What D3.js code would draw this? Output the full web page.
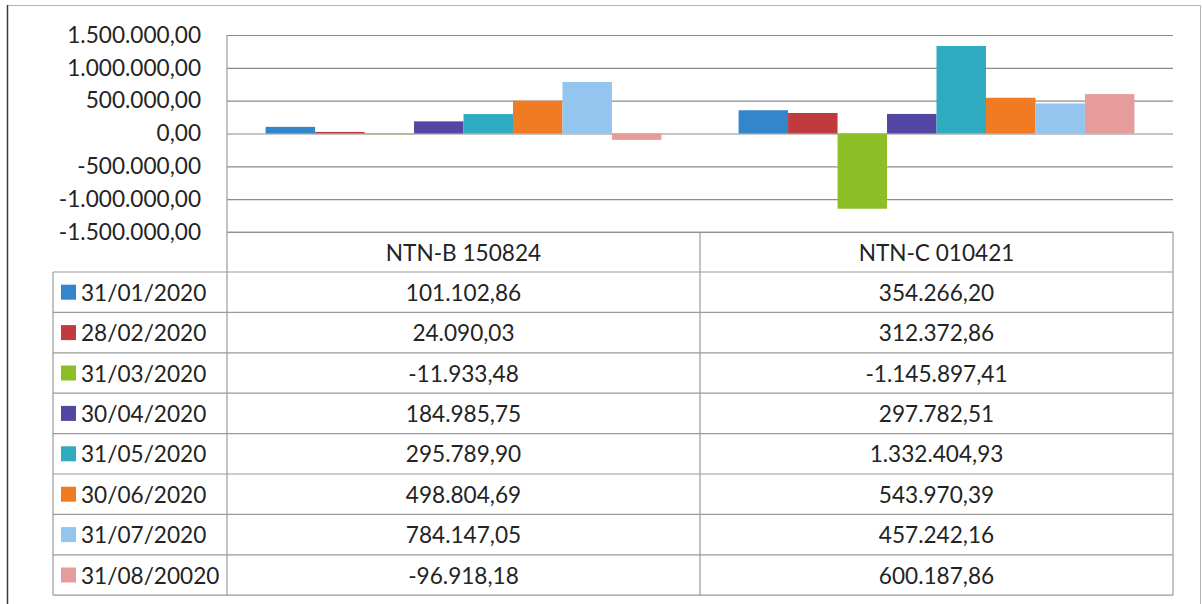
<!DOCTYPE html>
<html>
<head>
<meta charset="utf-8">
<script src="https://cdn.jsdelivr.net/npm/d3@7"></script>
<style>
  html, body { margin: 0; padding: 0; background: #ffffff; }
  svg { display: block; }
  text { font-family: Lato, "Open Sans", sans-serif; fill: #232323; }
</style>
</head>
<body>
<svg id="chart" width="1202" height="604"></svg>
<script>
// Securities (categories) and month-end dates (series)
const categories = ["NTN-B 150824", "NTN-C 010421"];
const dates = ["31/01/2020", "28/02/2020", "31/03/2020", "30/04/2020",
               "31/05/2020", "30/06/2020", "31/07/2020", "31/08/20020"];
// Values per date: [NTN-B 150824, NTN-C 010421]
const values = [
  [101102.86, 354266.20],
  [24090.03, 312372.86],
  [-11933.48, -1145897.41],
  [184985.75, 297782.51],
  [295789.90, 1332404.93],
  [498804.69, 543970.39],
  [784147.05, 457242.16],
  [-96918.18, 600187.86]
];
const yTicks = [-1500000, -1000000, -500000, 0, 500000, 1000000, 1500000];
const seriesColors = ["#3385cc", "#c03b3d", "#8cbf26", "#5347a4",
                      "#2eabc0", "#f07b22", "#93c5ef", "#e79c9c"];

const svg = d3.select("#chart");
const fontSize = 22.6;

// Brazilian number format: "." for thousands, "," for decimals, plain hyphen minus
const ptBR = d3.formatLocale({ decimal: ",", thousands: ".", grouping: [3], currency: ["R$", ""], minus: "-" });
const fmt = ptBR.format(",.2f");

const plot = { left: 227, right: 1173, top: 35, bottom: 232 };
const table = { left: 53, headerBottom: 272, rowH: 40.4 };

const x0 = d3.scaleBand().domain(categories).range([plot.left, plot.right]).padding(0);
const x1 = d3.scaleBand().domain(d3.range(dates.length))
  .range([0, x0.bandwidth()]).paddingInner(0).paddingOuter(0.78);
const y = d3.scaleLinear().domain([-1500000, 1500000]).range([plot.bottom, plot.top]);

// Outer frame
svg.append("line").attr("x1", 7).attr("x2", 1200).attr("y1", 5.5).attr("y2", 5.5)
  .attr("stroke", "#b4b4b4").attr("stroke-width", 1);
svg.append("line").attr("x1", 7.5).attr("x2", 7.5).attr("y1", 5).attr("y2", 604)
  .attr("stroke", "#3a3a3a").attr("stroke-width", 1.5);
svg.append("line").attr("x1", 1200.5).attr("x2", 1200.5).attr("y1", 5).attr("y2", 604)
  .attr("stroke", "#b4b4b4").attr("stroke-width", 1);

// Gridlines and y-axis labels
const yAxis = d3.axisLeft(y).tickValues(yTicks).tickFormat(fmt)
  .tickSize(-(plot.right - plot.left)).tickPadding(26);
const gy = svg.append("g").attr("transform", `translate(${plot.left},0)`).call(yAxis);
gy.select(".domain").remove();
gy.selectAll(".tick line").attr("stroke", "#8c8c8c").attr("stroke-width", 1.2);
gy.selectAll(".tick text").attr("font-size", fontSize).attr("fill", "#232323")
  .style("font-family", "Lato, 'Open Sans', sans-serif");

// Bars
const groups = svg.append("g").selectAll("g")
  .data(categories).join("g")
  .attr("transform", c => `translate(${x0(c)},0)`);
groups.selectAll("rect")
  .data((c, ci) => values.map((v, si) => ({ si, v: v[ci] })))
  .join("rect")
  .attr("x", d => x1(d.si))
  .attr("width", x1.bandwidth())
  .attr("y", d => y(Math.max(0, d.v)))
  .attr("height", d => Math.abs(y(d.v) - y(0)))
  .attr("fill", d => seriesColors[d.si]);

// Data table below the plot
const lineColor = "#9a9a9a";
const tg = svg.append("g");
const rowTop = i => table.headerBottom + i * table.rowH;
const tableBottom = rowTop(dates.length);

// horizontal rules
tg.append("line").attr("x1", plot.left).attr("x2", plot.right)
  .attr("y1", plot.bottom).attr("y2", plot.bottom).attr("stroke", lineColor);
d3.range(dates.length + 1).forEach(i => {
  tg.append("line").attr("x1", table.left).attr("x2", plot.right)
    .attr("y1", rowTop(i)).attr("y2", rowTop(i)).attr("stroke", lineColor).attr("stroke-width", 1.2);
});
// vertical rules
tg.append("line").attr("x1", table.left).attr("x2", table.left)
  .attr("y1", table.headerBottom).attr("y2", tableBottom).attr("stroke", lineColor).attr("stroke-width", 1.2);
tg.append("line").attr("x1", plot.left).attr("x2", plot.left)
  .attr("y1", plot.top).attr("y2", tableBottom).attr("stroke", lineColor).attr("stroke-width", 1.2);
[x0(categories[1]), plot.right].forEach(xv => {
  tg.append("line").attr("x1", xv).attr("x2", xv)
    .attr("y1", plot.bottom).attr("y2", tableBottom).attr("stroke", lineColor).attr("stroke-width", 1.2);
});

// header labels
tg.selectAll("text.head").data(categories).join("text")
  .attr("class", "head")
  .attr("x", c => x0(c) + x0.bandwidth() / 2)
  .attr("y", (plot.bottom + table.headerBottom) / 2)
  .attr("text-anchor", "middle").attr("dominant-baseline", "central")
  .attr("font-size", fontSize).text(c => c);

// legend keys + date labels
const rows = tg.selectAll("g.row").data(dates).join("g").attr("class", "row")
  .attr("transform", (d, i) => `translate(0,${rowTop(i) + table.rowH / 2})`);
rows.append("rect").attr("x", 61).attr("y", -7.5).attr("width", 15).attr("height", 15)
  .attr("fill", (d, i) => seriesColors[i]);
rows.append("text").attr("x", 81).attr("dominant-baseline", "central")
  .attr("font-size", fontSize).text(d => d);
rows.selectAll("text.val").data((d, i) => values[i].map((v, ci) => ({ v, ci })))
  .join("text").attr("class", "val")
  .attr("x", d => x0(categories[d.ci]) + x0.bandwidth() / 2)
  .attr("text-anchor", "middle").attr("dominant-baseline", "central")
  .attr("font-size", fontSize).text(d => fmt(d.v));
</script>
</body>
</html>
